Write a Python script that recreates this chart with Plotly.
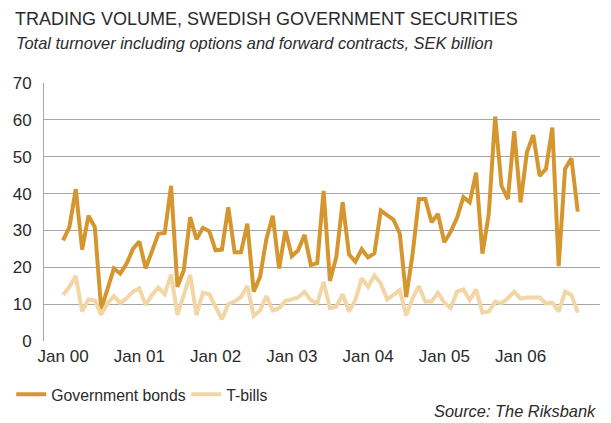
import plotly.graph_objects as go

# Monthly data, Jan 2000 - Oct 2006 (SEK billion)
gov_bonds = [27.3, 30.9, 41.2, 24.8, 34.0, 30.9, 8.6, 14.3, 19.7, 18.3, 21.0, 25.0,
             27.0, 19.7, 24.6, 29.1, 29.3, 42.1, 14.7, 19.2, 33.6, 27.6, 30.7, 29.8,
             24.6, 24.8, 36.3, 24.1, 24.1, 31.8, 13.4, 17.4, 27.7, 34.0, 19.7, 30.0,
             23.0, 24.6, 28.8, 20.6, 21.1, 40.7, 16.3, 22.8, 37.7, 23.5, 21.5, 24.9,
             22.7, 23.8, 35.4, 34.2, 32.9, 29.1, 11.9, 23.5, 38.5, 38.5, 32.2, 34.5,
             26.8, 29.6, 33.4, 39.0, 37.6, 45.7, 23.7, 34.5, 60.9, 42.1, 38.5, 56.9,
             37.6, 51.2, 55.9, 44.8, 46.7, 57.9, 20.3, 46.7, 49.6, 35.1]
t_bills = [12.5, 14.7, 17.6, 8.0, 11.3, 11.0, 7.1, 10.2, 12.2, 10.2, 11.6, 13.4,
           14.3, 9.8, 12.5, 14.5, 12.7, 18.0, 7.1, 12.9, 17.9, 7.1, 13.1, 12.7,
           9.3, 5.9, 10.0, 10.7, 12.0, 14.9, 6.8, 8.3, 12.2, 8.3, 8.9, 10.9,
           11.3, 11.8, 13.4, 11.1, 10.2, 16.0, 8.9, 9.3, 12.7, 8.0, 11.1, 17.0,
           14.7, 17.8, 15.6, 11.3, 12.5, 13.8, 7.0, 11.5, 14.9, 10.7, 10.7, 13.1,
           10.4, 8.9, 13.4, 14.0, 11.1, 14.0, 7.7, 8.0, 10.7, 10.2, 11.6, 13.4,
           11.5, 11.8, 11.8, 11.8, 10.2, 10.4, 8.0, 13.4, 12.5, 7.7]
month_index = list(range(len(gov_bonds)))

tick_labels = ["Jan 00", "Jan 01", "Jan 02", "Jan 03", "Jan 04", "Jan 05", "Jan 06"]
tick_positions = [0, 12, 24, 36, 48, 60, 72]
y_ticks = [0, 10, 20, 30, 40, 50, 60, 70]

GOLD = "#D6962F"
BEIGE = "#F2D6A6"
FONT = "Liberation Sans, Arial, sans-serif"
TXT = "#2a2a2a"

fig = go.Figure()
fig.add_trace(go.Scatter(x=month_index, y=gov_bonds, mode="lines", name="Government bonds",
                         line=dict(color=GOLD, width=4)))
fig.add_trace(go.Scatter(x=month_index, y=t_bills, mode="lines", name="T-bills",
                         line=dict(color=BEIGE, width=4)))

W, H = 611, 423
L, R, T, B = 40, 11, 83, 80
pw, ph = W - L - R, H - T - B

def px(x):
    return (x - L) / pw

def py(y):
    return (H - B - y) / ph

fig.update_layout(
    width=W, height=H,
    margin=dict(l=L, r=R, t=T, b=B),
    paper_bgcolor="white", plot_bgcolor="white",
    font=dict(family=FONT, size=17, color=TXT),
    showlegend=True,
    legend=dict(orientation="h", x=px(7), y=py(397), xanchor="left", yanchor="middle",
                font=dict(family=FONT, size=15.8, color=TXT), itemwidth=30,
                entrywidth=130, entrywidthmode="pixels",
                bgcolor="rgba(0,0,0,0)", tracegroupgap=0),
    xaxis=dict(range=[-3.0, 84.5], tickmode="array", tickvals=tick_positions,
               ticktext=tick_labels, showgrid=False, zeroline=False, showline=False,
               ticks="", ticklabelstandoff=3, tickfont=dict(family=FONT, size=17, color=TXT)),
    yaxis=dict(range=[0, 70], tickmode="array", tickvals=y_ticks,
               ticktext=[str(v) for v in y_ticks], showgrid=True, gridcolor="#a6a6a6",
               gridwidth=1, zeroline=False, showline=True, linecolor="#a6a6a6",
               linewidth=1, ticks="", ticklabelstandoff=8,
               tickfont=dict(family=FONT, size=17, color=TXT)),
    annotations=[
        dict(text="TRADING VOLUME, SWEDISH GOVERNMENT SECURITIES", xref="paper", yref="paper",
             x=px(9), y=py(18), xanchor="left", yanchor="middle", showarrow=False,
             font=dict(family=FONT, size=18, color=TXT)),
        dict(text="<i>Total turnover including options and forward contracts, SEK billion</i>",
             xref="paper", yref="paper", x=px(10), y=py(43), xanchor="left", yanchor="middle",
             showarrow=False, font=dict(family=FONT, size=16.4, color=TXT)),
        dict(text="<i>Source: The Riksbank</i>", xref="paper", yref="paper",
             x=px(598), y=py(414), xanchor="right", yanchor="middle", showarrow=False,
             font=dict(family=FONT, size=16.4, color=TXT)),
    ],
)

fig.write_html("out.html")
